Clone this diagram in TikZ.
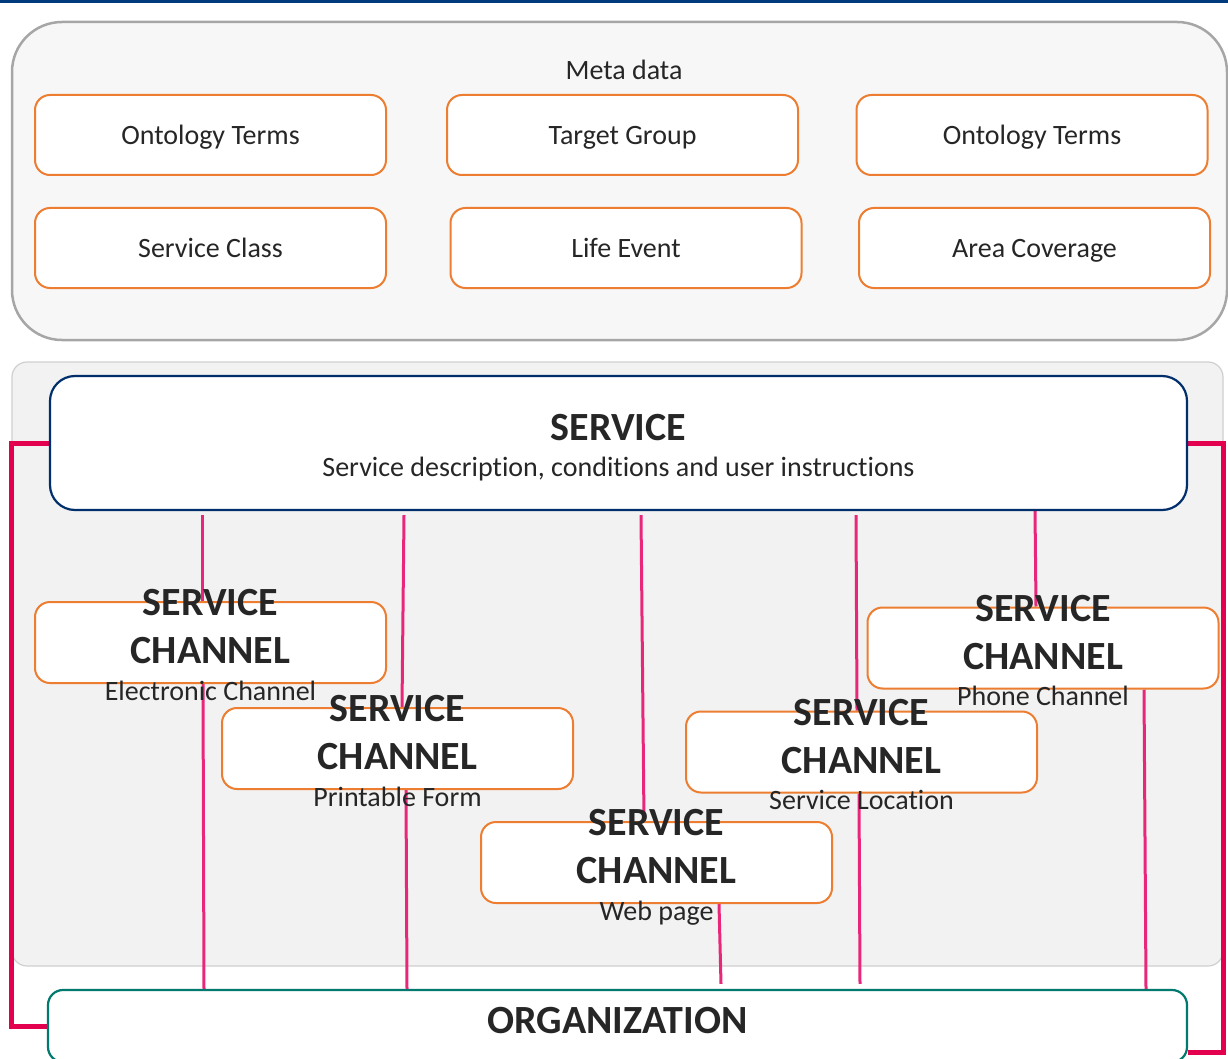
\documentclass[tikz,border=0pt]{standalone}
\usepackage{fontspec}
\setmainfont{Carlito}[Ligatures=NoCommon]
\usetikzlibrary{calc}

\definecolor{topblue}{HTML}{003A7D}
\definecolor{metafill}{HTML}{F7F7F7}
\definecolor{metaline}{HTML}{A6A6A6}
\definecolor{areafill}{HTML}{F2F2F2}
\definecolor{arealine}{HTML}{CFCFCF}
\definecolor{termline}{HTML}{ED7D31}
\definecolor{svcline}{HTML}{002F6C}
\definecolor{orgline}{HTML}{00796F}
\definecolor{linkpink}{HTML}{E8267A}
\definecolor{bracketred}{HTML}{E2004F}
\definecolor{ink}{HTML}{262626}

\pgfdeclarelayer{back}
\pgfdeclarelayer{wires}
\pgfsetlayers{back,wires,main}

\tikzset{
  plain/.style={text=ink, font=\fontsize{28}{34}\selectfont, text height=24pt, text depth=4pt, inner sep=0pt},
  bigtext/.style={text=ink, font=\bfseries\fontsize{40}{48}\selectfont, inner sep=0pt},
  chantitle/.style={bigtext, align=center},
  metabox/.style={draw=metaline, fill=metafill, line width=2.5pt, rounded corners=50pt, minimum width=1215pt, minimum height=318pt, inner sep=0pt},
  svcarea/.style={draw=arealine, fill=areafill, line width=1.2pt, rounded corners=15pt, minimum width=1211pt, minimum height=604pt, inner sep=0pt},
  term/.style={plain, draw=termline, fill=white, line width=2pt, rounded corners=15pt, minimum width=351pt, minimum height=80pt},
  chan/.style={draw=termline, fill=white, line width=2pt, rounded corners=15pt, minimum width=351pt, minimum height=81pt, inner sep=0pt},
  svcbox/.style={draw=svcline, fill=white, line width=2.2pt, rounded corners=25pt, minimum width=1137pt, minimum height=134pt, inner sep=0pt},
  orgbox/.style={draw=orgline, fill=white, line width=2.2pt, rounded corners=15pt, minimum width=1139pt, minimum height=72pt, inner sep=0pt},
  link/.style={draw=linkpink, line width=3pt},
  bracket/.style={draw=bracketred, line width=5pt}
}

\begin{document}
\begin{tikzpicture}[x=1pt, y=-1pt]
\useasboundingbox (0,0) rectangle (1228,1059);
\fill[topblue] (0,0) rectangle (1228,3.5);

% meta data
\begin{pgfonlayer}{back}
\node[metabox] (meta) at (619.5,181) {};
\node[svcarea] (area) at (617.5,664) {};
\end{pgfonlayer}
\node[plain] (metat) at (624,70) {Meta data};

\node[term] (ont1) at (210.5,135) {Ontology Terms};
\node[term] (target) at (622.5,135) {Target Group};
\node[term] (ont2) at (1032,135) {Ontology Terms};
\node[term] (class) at (210.5,248) {Service Class};
\node[term] (life) at (626,248) {Life Event};
\node[term] (cover) at (1034.5,248) {Area Coverage};

% service
\node[svcbox] (svc) at (618.5,443) {};
\node[bigtext] (svct) at ([yshift=15]svc.center) {SERVICE};
\node[plain] (svcs) at ([yshift=-23]svc.center) {Service description, conditions and user instructions};

% organization
\node[orgbox] (org) at (617.5,1026) {};
\node[bigtext] (orgt) at ([yshift=5]org.center) {ORGANIZATION};

% channels
\node[chan] (ch1) at (210.5,642.5) {};
\node[chantitle] (ch1t) at ([yshift=15.5]ch1.center) {SERVICE\\CHANNEL};
\node[plain] (ch1s) at ([yshift=-47.5]ch1.center) {Electronic Channel};

\node[chan] (ch2) at (397.5,748.5) {};
\node[chantitle] (ch2t) at ([yshift=15.5]ch2.center) {SERVICE\\CHANNEL};
\node[plain] (ch2s) at ([yshift=-47.5]ch2.center) {Printable Form};

\node[chan] (ch3) at (656.5,862.5) {};
\node[chantitle] (ch3t) at ([yshift=15.5]ch3.center) {SERVICE\\CHANNEL};
\node[plain] (ch3s) at ([yshift=-47.5]ch3.center) {Web page};

\node[chan] (ch4) at (861.5,752) {};
\node[chantitle] (ch4t) at ([yshift=15.5]ch4.center) {SERVICE\\CHANNEL};
\node[plain] (ch4s) at ([yshift=-47.5]ch4.center) {Service Location};

\node[chan] (ch5) at (1043,648) {};
\node[chantitle] (ch5t) at ([yshift=15.5]ch5.center) {SERVICE\\CHANNEL};
\node[plain] (ch5s) at ([yshift=-47.5]ch5.center) {Phone Channel};

% links
\begin{pgfonlayer}{wires}
\draw[link] ($(svc.south -| ch1.north)+(-8.5,4)$) -- ($(ch1.north)+(-8.5,0)$);
\draw[link] ($(ch1.south)+(-7.5,0)$) -- ($(org.north -| ch1.south)+(-6.5,0)$);
\draw[link] ($(svc.south -| ch2.north)+(6.5,4)$) -- ($(ch2.north)+(4.5,0)$);
\draw[link] ($(ch2.south)+(8.5,0)$) -- ($(org.north -| ch2.south)+(9.5,0)$);
\draw[link] ($(svc.south -| ch3.north)+(-15.5,4)$) -- ($(ch3.north)+(-12.5,0)$);
\draw[link] ($(ch3.south)+(62.5,0)$) -- ($(org.north -| ch3.south)+(64.5,-5)$);
\draw[link] ($(svc.south -| ch4.north)+(-5.5,4)$) -- ($(ch4.north)+(-4.5,0)$);
\draw[link] ($(ch4.south)+(-2.5,0)$) -- ($(org.north -| ch4.south)+(-1.5,-5)$);
\draw[link] ($(svc.south -| ch5.north)+(-8,0)$) -- ($(ch5.north)+(-7,0)$);
\draw[link] ($(ch5.south)+(101,0)$) -- ($(org.north -| ch5.south)+(103,0)$);

\draw[bracket] (svc.west) -- ++(-37.5,0) |- (org.west);
\draw[bracket] (svc.east) -- ++(35.5,0) |- ($(org.east)+(0,26)$);
\end{pgfonlayer}

\end{tikzpicture}
\end{document}
